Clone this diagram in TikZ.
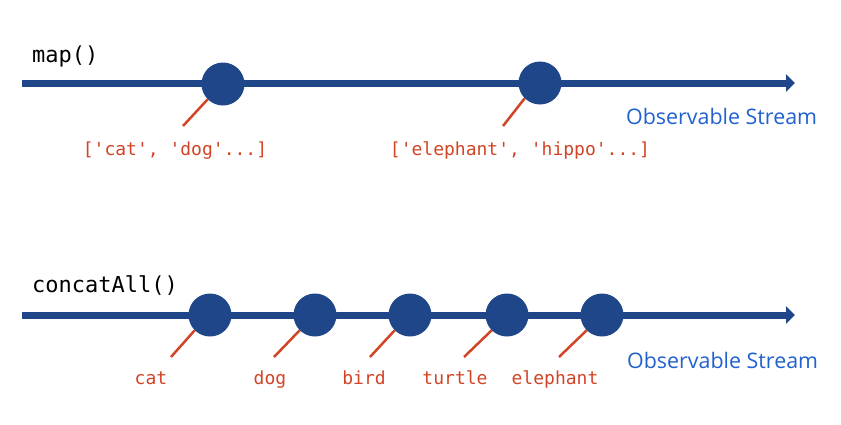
\documentclass[tikz,border=0pt]{standalone}
\usepackage{fontspec}
\setmonofont{DejaVu Sans Mono}
\newfontfamily\streamfont{Open Sans}
\usetikzlibrary{arrows.meta}
\definecolor{streamblue}{RGB}{30,70,136}
\definecolor{labelred}{RGB}{210,68,38}
\definecolor{textblue}{RGB}{32,96,208}
\tikzset{
  x=1pt, y=-1pt,
  streamline/.style={draw=streamblue, line width=7pt, -{Triangle[length=9pt,width=17pt]}},
  marble/.style={circle, fill=streamblue, minimum size=43pt, inner sep=0pt},
  leader/.style={draw=labelred, line width=2.5pt},
  vallabel/.style={anchor=base, text=labelred, font=\ttfamily\fontsize{18}{20}\selectfont, inner sep=0pt},
  oplabel/.style={anchor=base west, text=black, font=\ttfamily\fontsize{22}{24}\selectfont, inner sep=0pt},
  streamlabel/.style={anchor=base west, text=textblue, font=\streamfont\fontsize{21.4}{23}\selectfont, inner sep=0pt}
}
\begin{document}
\begin{tikzpicture}
\useasboundingbox (0,0) rectangle (841,424);
% top stream
\coordinate (s1) at (22,83);
\coordinate (e1) at (795,83);
\draw[streamline] (s1) -- (e1);
\node[oplabel] (op1) at (32,62) {map()};
\node[marble] (m1) at (223,84) {};
\node[marble] (m2) at (540,83) {};
\coordinate (l1) at (183,126);
\coordinate (l2) at (503,126);
\draw[leader] (m1.225) -- (l1);
\draw[leader] (m2.225) -- (l2);
\node[vallabel] (v1) at (175,155) {['cat', 'dog'...]};
\node[vallabel] (v2) at (520,155) {['elephant', 'hippo'...]};
\node[streamlabel] (st1) at (626,124) {Observable Stream};
% bottom stream
\coordinate (s2) at (22,315);
\coordinate (e2) at (795,315);
\draw[streamline] (s2) -- (e2);
\node[oplabel] (op2) at (32,292) {concatAll()};
\foreach \i/\x in {1/210,2/315,3/410,4/507,5/602} {
  \node[marble] (n\i) at (\x,315) {};
}
\coordinate (k1) at (171,357);
\coordinate (k2) at (274,357);
\coordinate (k3) at (370,357);
\coordinate (k4) at (464,357);
\coordinate (k5) at (559,357);
\foreach \i in {1,...,5} {
  \draw[leader] (n\i.225) -- (k\i);
}
\node[vallabel] (w1) at (151,384) {cat};
\node[vallabel] (w2) at (270,384) {dog};
\node[vallabel] (w3) at (364,384) {bird};
\node[vallabel] (w4) at (455,384) {turtle};
\node[vallabel] (w5) at (555,384) {elephant};
\node[streamlabel] (st2) at (627,368) {Observable Stream};
\end{tikzpicture}
\end{document}
